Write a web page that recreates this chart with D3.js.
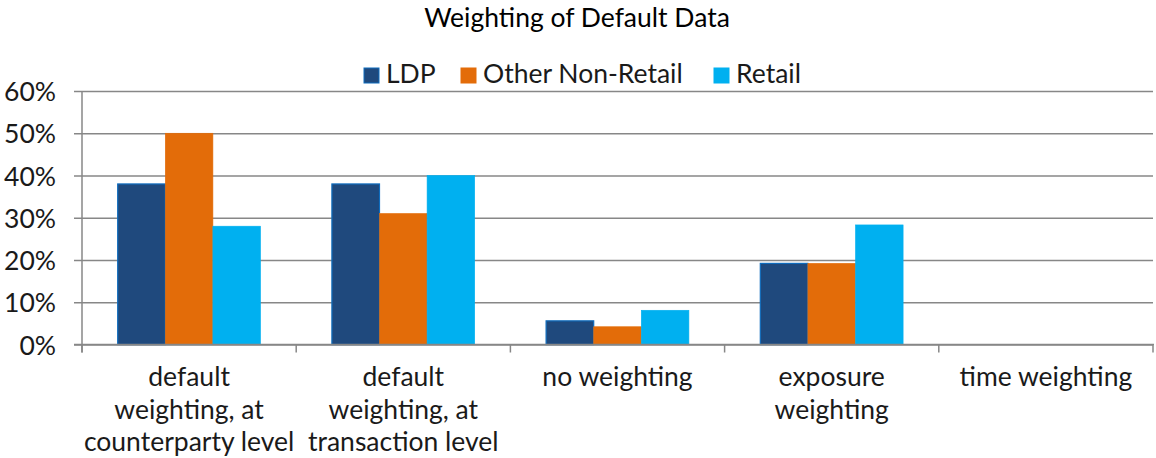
<!DOCTYPE html>
<html>
<head>
<meta charset="utf-8">
<script src="https://cdn.jsdelivr.net/npm/d3@7"></script>
<style>
  html, body { margin: 0; padding: 0; background: #fff; }
  svg { display: block; font-family: Lato, "Noto Sans", sans-serif; }
</style>
</head>
<body>
<svg id="chart" width="1156" height="458"></svg>
<script>
const categories = [
  ["default", "weighting, at", "counterparty level"],
  ["default", "weighting, at", "transaction level"],
  ["no weighting"],
  ["exposure", "weighting"],
  ["time weighting"]
];
const seriesNames = ["LDP", "Other Non-Retail", "Retail"];
const ldp = [0.38, 0.38, 0.056, 0.192, 0];
const otherNonRetail = [0.50, 0.31, 0.042, 0.192, 0];
const retail = [0.28, 0.40, 0.081, 0.283, 0];
const yTicks = [0, 0.1, 0.2, 0.3, 0.4, 0.5, 0.6];
const colors = ["#1f497d", "#e36c09", "#00b0f0"];
const strokes = ["#0f6cbd", "#e36c09", "#00b0f0"];
const title = "Weighting of Default Data";

const FS = 26.5;
const series = [ldp, otherNonRetail, retail];
const svg = d3.select("#chart");
const margin = {left: 82, right: 1153, top: 91, bottom: 344.5};

const x = d3.scaleBand().domain(d3.range(categories.length)).range([margin.left, margin.right]).paddingInner(0).paddingOuter(0);
const bandW = x.bandwidth();
const barW = bandW / 4.5;
const xs = d3.scaleBand().domain(d3.range(series.length)).range([0.75 * barW, 3.75 * barW]);
const y = d3.scaleLinear().domain([0, 0.6]).range([margin.bottom, margin.top]);

// title
svg.append("text").attr("x", 577).attr("y", 27).attr("text-anchor", "middle")
  .attr("font-size", FS).attr("fill", "#000").text(title);

// gridlines and y axis
const yAxis = d3.axisLeft(y).tickValues(yTicks).tickFormat(d3.format(".0%")).tickSize(-(margin.right - margin.left)).tickSizeOuter(0).tickPadding(26);
const gy = svg.append("g").attr("transform", `translate(${margin.left},0)`).call(yAxis);
gy.select(".domain").remove();
gy.selectAll(".tick line").attr("stroke", "#878787").attr("stroke-width", 1.5).attr("x1", -8);
gy.selectAll(".tick text").attr("font-size", FS).attr("fill", "#1a1a1a").attr("font-family", "Lato, sans-serif").attr("dy", "0.36em");

// y axis line
svg.append("line").attr("x1", margin.left).attr("x2", margin.left).attr("y1", margin.top).attr("y2", margin.bottom + 8)
  .attr("stroke", "#878787").attr("stroke-width", 1.5);

// bars
series.forEach((vals, si) => {
  svg.append("g").selectAll("rect").data(vals).join("rect")
    .attr("x", (d, i) => x(i) + xs(si))
    .attr("y", d => y(d))
    .attr("width", xs.bandwidth())
    .attr("height", d => y(0) - y(d))
    .attr("fill", colors[si])
    .attr("stroke", d => d > 0 ? strokes[si] : "none")
    .attr("stroke-width", si === 0 ? 1.2 : 0.6);
});

// x axis
const xAxisLine = svg.append("g");
xAxisLine.append("line").attr("x1", margin.left - 8).attr("x2", margin.right + 1).attr("y1", y(0)).attr("y2", y(0))
  .attr("stroke", "#878787").attr("stroke-width", 1.5);
const boundaries = d3.range(categories.length + 1).map(i => margin.left + i * bandW);
xAxisLine.selectAll("line.tk").data(boundaries).join("line").attr("class", "tk")
  .attr("x1", d => d).attr("x2", d => d).attr("y1", y(0)).attr("y2", y(0) + 8)
  .attr("stroke", "#878787").attr("stroke-width", 1.5);

// category labels
const lab = svg.append("g").selectAll("text").data(categories).join("text")
  .attr("x", (d, i) => x(i) + bandW / 2)
  .attr("y", 386)
  .attr("text-anchor", "middle").attr("font-size", FS).attr("fill", "#1a1a1a");
lab.each(function(lines) {
  d3.select(this).selectAll("tspan").data(lines).join("tspan")
    .attr("x", d3.select(this).attr("x"))
    .attr("dy", (d, j) => j === 0 ? 0 : 32.5)
    .text(d => d);
});

// legend
const legendX = [364, 461, 714];
const lg = svg.append("g").selectAll("g").data(seriesNames).join("g")
  .attr("transform", (d, i) => `translate(${legendX[i]},68)`);
lg.append("rect").attr("width", 15).attr("height", 15).attr("fill", (d, i) => colors[i])
  .attr("stroke", (d, i) => strokes[i]).attr("stroke-width", 1);
lg.append("text").attr("x", 22).attr("y", 15).attr("font-size", FS).attr("fill", "#1a1a1a").text(d => d);
</script>
</body>
</html>
